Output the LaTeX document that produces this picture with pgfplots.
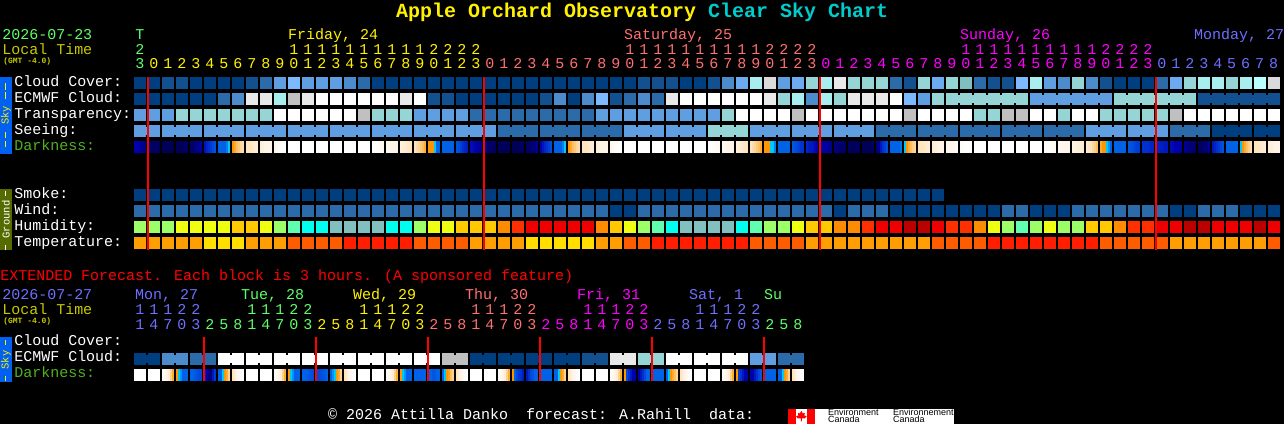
\documentclass[border=0pt]{standalone}
\usepackage{fontspec}
\usepackage{pgfplots}
\usepackage{pgfplotstable}
\pgfplotsset{compat=1.18}
\setmainfont{Liberation Sans}
\newfontfamily\mono{Liberation Mono}
% 1 reference pixel = 0.75pt, axis runs in pixels
\newcommand{\txt}{\mono\fontsize{11.25pt}{11.25pt}\selectfont}
\newcommand{\ttl}{\mono\bfseries\fontsize{15pt}{15pt}\selectfont}
\newcommand{\side}{\mono\fontsize{7.9pt}{7.9pt}\selectfont}

\pgfdeclareplotmark{cell}{\pgfpathrectangle{\pgfpoint{-4.5pt}{-4.5pt}}{\pgfpoint{9pt}{9pt}}\pgfusepathqfill}
\pgfdeclareplotmark{bridge}{\pgfpathrectangle{\pgfpoint{-0.8pt}{-3pt}}{\pgfpoint{1.6pt}{6pt}}\pgfusepathqfill}
\pgfdeclareplotmark{slice}{\pgfpathrectangle{\pgfpoint{-0.8pt}{-4.5pt}}{\pgfpoint{1.6pt}{9pt}}\pgfusepathqfill}
\pgfdeclareplotmark{nil}{}

\definecolor{cA}{HTML}{003F7F}
\definecolor{cB}{HTML}{13508F}
\definecolor{cC}{HTML}{2C6BAA}
\definecolor{cD}{HTML}{4C8CCC}
\definecolor{cE}{HTML}{5F9EE0}
\definecolor{cF}{HTML}{6CABF0}
\definecolor{cG}{HTML}{7DB9FF}
\definecolor{cH}{HTML}{7FBFBF}
\definecolor{cI}{HTML}{95D5D5}
\definecolor{cJ}{HTML}{A9EEEE}
\definecolor{cK}{HTML}{B9FFFF}
\definecolor{cL}{HTML}{C0C0C0}
\definecolor{cM}{HTML}{DADADA}
\definecolor{cN}{HTML}{E9E9E9}
\definecolor{cO}{HTML}{FFFFFF}
\definecolor{hg}{HTML}{9CFF68}
\definecolor{hy}{HTML}{EEFF11}
\definecolor{ha}{HTML}{FFC800}
\definecolor{ho}{HTML}{FF8C00}
\definecolor{hr}{HTML}{FF3000}
\definecolor{hR}{HTML}{EE0000}
\definecolor{hD}{HTML}{BB0000}
\definecolor{hm}{HTML}{5FFFAF}
\definecolor{hc}{HTML}{00FFEE}
\definecolor{ht}{HTML}{82BFBF}
\definecolor{ty}{HTML}{FFDE00}
\definecolor{to}{HTML}{FF9E00}
\definecolor{tO}{HTML}{FF5C00}
\definecolor{tr}{HTML}{FF1E00}
\definecolor{lgreen}{HTML}{5CFF68}
\definecolor{lyel}{HTML}{C8C800}
\definecolor{lsal}{HTML}{FF7070}
\definecolor{lmag}{HTML}{FF00FF}
\definecolor{lblue}{HTML}{6E6EFF}
\definecolor{ldark}{HTML}{50B020}
\definecolor{ttlcy}{HTML}{00CCCC}
\definecolor{skybar}{HTML}{0060F0}
\definecolor{gndbar}{HTML}{556B00}

\pgfplotsset{
  palette/.style={only marks, scatter, scatter src=explicit symbolic,
    scatter/classes={
      n={mark=nil},
      A={mark=#1,cA}, B={mark=#1,cB}, C={mark=#1,cC}, D={mark=#1,cD}, E={mark=#1,cE},
      F={mark=#1,cF}, G={mark=#1,cG}, H={mark=#1,cH}, I={mark=#1,cI}, J={mark=#1,cJ},
      K={mark=#1,cK}, L={mark=#1,cL}, M={mark=#1,cM}, N={mark=#1,cN}, O={mark=#1,cO},
      hg={mark=#1,hg}, hy={mark=#1,hy}, ha={mark=#1,ha}, ho={mark=#1,ho}, hr={mark=#1,hr},
      hR={mark=#1,hR}, hD={mark=#1,hD}, hm={mark=#1,hm}, hc={mark=#1,hc}, ht={mark=#1,ht},
      ty={mark=#1,ty}, to={mark=#1,to}, tO={mark=#1,tO}, tr={mark=#1,tr}}},
  darkscale/.style={only marks, scatter, scatter src=explicit, mark=slice,
    scatter/use mapped color={fill=mapped color}},
  colormap={dark}{rgb255=(0,0,64) rgb255=(0,0,120) rgb255=(0,0,176) rgb255=(0,48,208)
    rgb255=(0,98,230) rgb255=(0,200,255) rgb255=(255,150,0) rgb255=(255,190,96)
    rgb255=(255,228,190) rgb255=(255,244,230) rgb255=(255,255,255)},
}

% one line per forecast hour; n = nothing drawn; sbr, ebr = join to the next block
\pgfplotstableread{
col cloud ecmwf transp seeing smoke wind humid temp sbr ebr
0 A A E E A C hg to E n
1 A A E E A C hg to n n
2 B A E E A C hg to E n
3 B A I E A C hy to E n
4 A A I E A C hy to n n
5 A A I E A C hy ty E n
6 A C I E A C hy ty E n
7 A D I E A C ha ty n n
8 B N I E A C ha to E n
9 C N I E A C hy to E n
10 E J O E A C hg to n n
11 G L O E A C hm tO E n
12 E N O E A C hc tO E n
13 E O O E A C hc tO n n
14 E O O E A C ht tO E n
15 D O O E A C ht tr E n
16 C O L E A C ht tr n n
17 A O I E A C ht tr E n
18 A O I E A C hc tr E n
19 A N I E A C hc tr n n
20 A O E E A C hg tO E n
21 A B E E A C hy tO E n
22 A B E E A C hy tO n n
23 A A E E A C ha tO E n
24 A A C E A C ha to E n
25 A A C E A C ha to n n
26 A A C C A C ho to C n
27 A A C C A C hr to C n
28 A A C C A C hR ty n n
29 A B C C A C hR ty C n
30 A D C C A C hR ty C n
31 A A C C A C hR ty n n
32 A D C C A C hR ty C n
33 A G E C A C ho to C n
34 A B E C A A ha to n n
35 A C E E A A hy tO E n
36 B D E E A C hg tO E n
37 B C E E A C hm tr n n
38 B N E E A C hc tr E n
39 A O E E A C ht tr E n
40 A O E E A C ht tr n n
41 B O E I A C ht tr I n
42 D O I I A C ht tr I n
43 F O O I A C hc tr n n
44 J O O E A C hm tO E n
45 M N O E A C hg tO E n
46 E I O E A C hg tO n n
47 F J L E A C hy tO E n
48 I D O E A C ha to E n
49 J J O E A C ha to n n
50 N I O E A A ho to E n
51 I N O E A C ho to E n
52 I N O E A C hr to n n
53 I N O C A C hR to C n
54 C O O C A A hR to C n
55 B G L C A A hD to n n
56 I E O C A A hD to C n
57 F I O C A A hR tO C n
58 I I O C n A hr tO n I
59 H I O C n A hr tO C I
60 C I I C n A ho tO C I
61 B I I C n A hy tr n I
62 B I L C n C hg tr C I
63 G I L C n C hm tr C n
64 J E O C n A hg tr n E
65 E E O C n A hy tr C E
66 D E I C n A hg tr C E
67 I E O C n C hg tr n E
68 D E O E n C ha tr E E
69 B E I E n C ha tO E n
70 A I I E n C ho tO n I
71 A I I E n C hr tO E I
72 A I I E n C hr tO E I
73 C I I E n C hR tO n I
74 F I L C n A hR to C I
75 I I O C n A hD to C n
76 J B O C n C hD to n B
77 J B O A n C hR to A B
78 I B O A n C hR to A B
79 J B O A n A hR to n B
80 K B O A n A hD to A B
81 M B O A n A hR tO n n
}\hourly

% darkness: six samples across each block
\pgfplotstableread{
col a b c d e f
0 2 2 1.8 1.6 1.4 1.2
1 1 .8 .7 .6 .6 .5
2 .5 .5 .4 .4 .4 .3
3 .4 .4 .5 .5 .6 .6
4 .7 .8 1 1.2 1.5 1.8
5 2.4 2.8 3 3.2 3.5 3.7
6 4 4 4 4 4.3 5
7 6 6.5 7 7.3 7.6 7.8
8 8 8 8.2 8.3 8.5 8.6
9 8.6 8.8 9 9 9.2 9.2
10 9.3 9.4 9.6 9.8 10 10
11 10 10 10 10 10 10
12 10 10 10 10 10 10
13 10 10 10 10 10 10
14 10 10 10 10 10 10
15 10 10 10 10 10 10
16 10 10 10 10 10 10
17 10 10 9.8 9.7 9.6 9.5
18 9.4 9.3 9.2 9 9 8.9
19 8.8 8.6 8.5 8.3 8.2 8
20 8 7.8 7.6 7.3 7 6.6
21 6 6 6 5 4 4
22 4 4 4 4 4 4
23 3.7 3.6 3.3 3 2.8 2.6
24 2.3 2.2 2 1.8 1.6 1.4
25 1.2 1 .8 .7 .6 .6
26 .5 .5 .5 .4 .4 .4
27 .4 .4 .4 .5 .5 .5
28 .6 .7 .8 1 1.2 1.5
29 2 2.4 2.8 3 3.3 3.6
30 4 4 4 4 4.3 5
31 6 6.5 7 7.3 7.6 7.8
32 8 8 8.2 8.3 8.5 8.6
33 8.6 8.8 9 9 9.2 9.2
34 9.3 9.4 9.6 9.8 10 10
35 10 10 10 10 10 10
36 10 10 10 10 10 10
37 10 10 10 10 10 10
38 10 10 10 10 10 10
39 10 10 10 10 10 10
40 10 10 10 10 10 10
41 10 10 9.8 9.7 9.6 9.5
42 9.4 9.3 9.2 9 9 8.9
43 8.8 8.6 8.5 8.3 8.2 8
44 8 7.8 7.6 7.3 7 6.6
45 6 6 6 5 5 4.3
46 4 4 4 4 4 4
47 3.8 3.6 3.5 3.3 3.1 3
48 2.8 2.6 2.5 2.4 2.2 2
49 2 1.9 1.8 1.6 1.5 1.3
50 1.2 1 .9 .8 .7 .6
51 .6 .5 .5 .5 .5 .5
52 .4 .4 .4 .5 .5 .6
53 1 1.5 2.5 3 3.3 3.6
54 4 4 4 4 4 4.2
55 5 6 6.5 7 7.4 7.6
56 8 8 8.2 8.3 8.4 8.5
57 8.5 8.7 8.8 9 9 9.1
58 9.1 9.2 9.3 9.4 9.5 9.6
59 9.7 9.8 9.9 10 10 10
60 10 10 10 10 10 10
61 10 10 10 10 10 10
62 10 10 10 10 10 10
63 10 10 10 10 10 10
64 10 10 10 10 10 10
65 10 10 9.9 9.8 9.7 9.6
66 9.5 9.4 9.3 9.2 9.1 9
67 9 8.9 8.8 8.7 8.6 8.5
68 8.4 8.2 8 7.7 7.4 7
69 6.5 6 6 5 4.5 4
70 4 4 4 4 4 4
71 3.8 3.7 3.6 3.4 3.3 3.2
72 3 3 3 2.9 2.8 2.8
73 2.8 2.7 2.6 2.6 2.5 2.5
74 2.2 2.1 2 2 1.9 1.8
75 1.5 1.3 1.1 1 .8 .7
76 .6 .6 .7 .8 1 1.5
77 2.5 2.7 3 3.2 3.5 3.7
78 4 4 4 4 4 4
79 5 6 6.5 7 7.4 7.8
80 8 8 8.2 8.3 8.4 8.5
81 8.5 8.7 8.8 9 9 9.1
}\darkhourly

% extended forecast, one line per 3 hour block
\pgfplotstableread{
col ecmwf ebr a b c d e f
0 A A 10 10 10 10 10 10
1 A n 10 10 10 10 10 10
2 D D 9.8 9.5 9 8.5 7.5 6.5
3 D n 6 5 4.5 4 4 4
4 C C 4 4 3.8 3.7 3.5 3.5
5 C n 2.5 2 1.2 1.2 2.5 3.2
6 O O 4 4 5 6 6.5 7.5
7 O n 8 8.5 9 9.4 9.8 10
8 O O 10 10 10 10 10 10
9 O n 10 10 10 10 10 10
10 O O 9.8 9.5 9 8.5 7.5 6.5
11 O n 6 5 4.5 4 4 4
12 O O 4 4 3.9 3.8 3.7 3.6
13 O n 3.5 3.5 3.6 3.7 3.8 4
14 O O 4 4.5 5 6 6.5 7.5
15 O n 8 8.5 9 9.4 9.8 10
16 O O 10 10 10 10 10 10
17 O n 10 10 10 10 10 10
18 O O 9.8 9.5 9 8.5 7.5 6.5
19 O n 6 5 4.5 4 4 4
20 O O 4 4 4 4 4 4
21 O n 4 4 3.8 3.8 4 4
22 L L 4 5 6 6.3 7 7.5
23 L n 8 8.5 9 9.4 9.8 10
24 A A 10 10 10 10 10 10
25 A n 10 10 10 10 10 10
26 A A 9.8 9.5 9 8.5 7.5 6.5
27 A n 6 4 3.5 3.2 3 2.6
28 A A 2.5 3 3.5 3.7 4 4
29 A n 4 4 4 4 4 4
30 A A 4 4 5 6 6.5 7.5
31 A n 8 8.5 9 9.4 9.8 10
32 B B 10 10 10 10 10 10
33 B n 10 10 10 10 10 10
34 N N 9.8 9.5 9 8.5 7.5 6.5
35 N n 6 3.5 3 2.5 2 2
36 I I 2 2.5 3 3.5 4 4
37 I n 4 4 4 4 4 4
38 O O 4 5 6 6.5 7 7.6
39 O n 8 8.5 9 9.4 9.8 10
40 O O 10 10 10 10 10 10
41 O n 10 10 10 10 10 10
42 O O 9.8 9.5 9 8.5 7.5 6.5
43 O n 6 3.3 3 2.5 2 2
44 E E 2 2 2.5 3 3.5 3.8
45 E n 4 4 4 4 4 4
46 C C 4 4 5 6 6.5 7.5
47 C n 8 8.5 9 9.4 9.8 10
}\extended

\newcommand{\cellrow}[3]{\addplot[palette=cell] table[x expr=\thisrow{col}*14+140, y expr=#3, meta=#2]{#1};}
\newcommand{\joinrow}[3]{\addplot[palette=bridge] table[x expr=\thisrow{col}*14+147, y expr=#3, meta=#2]{#1};}
\newcommand{\darkrow}[2]{%
  \addplot[darkscale] table[x expr=\thisrow{col}*14+135, y expr=#2, meta=a]{#1};
  \addplot[darkscale] table[x expr=\thisrow{col}*14+137, y expr=#2, meta=b]{#1};
  \addplot[darkscale] table[x expr=\thisrow{col}*14+139, y expr=#2, meta=c]{#1};
  \addplot[darkscale] table[x expr=\thisrow{col}*14+141, y expr=#2, meta=d]{#1};
  \addplot[darkscale] table[x expr=\thisrow{col}*14+143, y expr=#2, meta=e]{#1};
  \addplot[darkscale] table[x expr=\thisrow{col}*14+145, y expr=#2, meta=f]{#1};
}
\newcommand{\midnight}[3]{\addplot[red, line width=1.5pt, sharp plot, no marks] coordinates {(#1,#2) (#1,#3)};}
% digits above the blocks: colour, baseline, first block, digits
\newcommand{\digits}[4]{%
  \foreach \d [count=\i from #3] in {#4} {%
    \pgfmathsetmacro{\xx}{\i*14+140}%
    \edef\tmp{\noexpand\node[anchor=base, inner sep=0pt, text=#1, font=\noexpand\txt] at (axis cs:\xx,#2) {\d};}%
    \tmp
  }%
}
\newcommand{\lab}[4]{\node[anchor=base west, inner sep=0pt, text=#1, font=\txt] at (axis cs:#2,#3) {#4};}
\newcommand{\dash}[3]{\path[fill=#1] (axis cs:5,#2) rectangle (axis cs:6.3,#3);}

\begin{document}
\begin{tikzpicture}
\begin{axis}[
    scale only axis,
    width=963pt, height=318pt,
    xmin=0, xmax=1284, ymin=0, ymax=424,
    y dir=reverse,
    hide axis,
    clip mode=individual,
    point meta min=0, point meta max=10,
    colormap name=dark,
]
\path[fill=black] (axis cs:0,0) rectangle (axis cs:1284,424);

% side bars
\path[fill=skybar] (axis cs:0,77) rectangle (axis cs:12,154);
\path[fill=gndbar] (axis cs:0,189) rectangle (axis cs:12,250);
\path[fill=skybar] (axis cs:0,337) rectangle (axis cs:12,382);
\node[rotate=90, text=yellow, inner sep=0pt, font=\side] at (axis cs:6,115.5) {Sky};
\node[rotate=90, text=white, inner sep=0pt, font=\side] at (axis cs:6,219.5) {Ground};
\node[rotate=90, text=yellow, inner sep=0pt, font=\side] at (axis cs:6,360) {Sky};
\dash{yellow}{83}{90}
\dash{yellow}{92}{99}
\dash{yellow}{132}{138}
\dash{yellow}{141}{147}
\dash{white}{191}{196}
\dash{white}{245}{250}
\dash{yellow}{340}{345}
\dash{yellow}{376}{381}

% title and left column
\node[anchor=base west, inner sep=0pt, font=\ttl] at (axis cs:396,18) {\textcolor{yellow}{Apple Orchard Observatory} \textcolor{ttlcy}{Clear Sky Chart}};
\lab{lgreen}{2}{40}{2026-07-23}
\lab{lyel}{2}{55}{Local Time}
\node[anchor=base west, inner sep=0pt, text=lyel, font=\mono\bfseries\fontsize{6pt}{6pt}\selectfont] at (axis cs:3,64) {(GMT -4.0)};
\lab{white}{14}{87}{Cloud Cover:}
\lab{white}{14}{103}{ECMWF Cloud:}
\lab{white}{14}{119}{Transparency:}
\lab{white}{14}{135}{Seeing:}
\lab{ldark}{14}{151}{Darkness:}
\lab{white}{14}{199}{Smoke:}
\lab{white}{14}{215}{Wind:}
\lab{white}{14}{231}{Humidity:}
\lab{white}{14}{247}{Temperature:}

% day names and hour digits
\digits{lgreen}{40}{0}{T}
\digits{lgreen}{55}{0}{2}
\digits{lgreen}{69}{0}{3}
\lab{yellow}{288}{40}{Friday, 24}
\lab{lsal}{624}{40}{Saturday, 25}
\lab{lmag}{960}{40}{Sunday, 26}
\lab{lblue}{1194}{40}{Monday, 27}
\digits{yellow}{55}{11}{1,1,1,1,1,1,1,1,1,1,2,2,2,2}
\digits{lsal}{55}{35}{1,1,1,1,1,1,1,1,1,1,2,2,2,2}
\digits{lmag}{55}{59}{1,1,1,1,1,1,1,1,1,1,2,2,2,2}
\digits{yellow}{69}{1}{0,1,2,3,4,5,6,7,8,9,0,1,2,3,4,5,6,7,8,9,0,1,2,3}
\digits{lsal}{69}{25}{0,1,2,3,4,5,6,7,8,9,0,1,2,3,4,5,6,7,8,9,0,1,2,3}
\digits{lmag}{69}{49}{0,1,2,3,4,5,6,7,8,9,0,1,2,3,4,5,6,7,8,9,0,1,2,3}
\digits{lblue}{69}{73}{0,1,2,3,4,5,6,7,8}

% hourly rows
\cellrow{\hourly}{cloud}{83}
\cellrow{\hourly}{ecmwf}{99}
\joinrow{\hourly}{ebr}{99}
\cellrow{\hourly}{transp}{115}
\cellrow{\hourly}{seeing}{131}
\joinrow{\hourly}{sbr}{131}
\darkrow{\darkhourly}{147}
\cellrow{\hourly}{smoke}{195}
\cellrow{\hourly}{wind}{211}
\cellrow{\hourly}{humid}{227}
\cellrow{\hourly}{temp}{243}
\midnight{148}{77}{250}
\midnight{484}{77}{250}
\midnight{820}{77}{250}
\midnight{1156}{77}{250}

% extended forecast
\lab{red}{0}{281}{EXTENDED Forecast. Each block is 3 hours. (A sponsored feature)}
\lab{lblue}{2}{300}{2026-07-27}
\lab{lyel}{2}{315}{Local Time}
\node[anchor=base west, inner sep=0pt, text=lyel, font=\mono\bfseries\fontsize{6pt}{6pt}\selectfont] at (axis cs:3,324) {(GMT -4.0)};
\lab{white}{14}{346}{Cloud Cover:}
\lab{white}{14}{362}{ECMWF Cloud:}
\lab{ldark}{14}{378}{Darkness:}
\lab{lblue}{135}{300}{Mon, 27}
\lab{lgreen}{241}{300}{Tue, 28}
\lab{yellow}{353}{300}{Wed, 29}
\lab{lsal}{465}{300}{Thu, 30}
\lab{lmag}{577}{300}{Fri, 31}
\lab{lblue}{689}{300}{Sat, 1}
\lab{lgreen}{764}{300}{Su}
\digits{lblue}{315}{0}{1,1,1,2,2}
\digits{lgreen}{315}{8}{1,1,1,2,2}
\digits{yellow}{315}{16}{1,1,1,2,2}
\digits{lsal}{315}{24}{1,1,1,2,2}
\digits{lmag}{315}{32}{1,1,1,2,2}
\digits{lblue}{315}{40}{1,1,1,2,2}
\digits{lblue}{330}{0}{1,4,7,0,3}
\digits{lgreen}{330}{5}{2,5,8,1,4,7,0,3}
\digits{yellow}{330}{13}{2,5,8,1,4,7,0,3}
\digits{lsal}{330}{21}{2,5,8,1,4,7,0,3}
\digits{lmag}{330}{29}{2,5,8,1,4,7,0,3}
\digits{lblue}{330}{37}{2,5,8,1,4,7,0,3}
\digits{lgreen}{330}{45}{2,5,8}
\cellrow{\extended}{ecmwf}{359}
\joinrow{\extended}{ebr}{359}
\darkrow{\extended}{375}
\midnight{204}{337}{381}
\midnight{316}{337}{381}
\midnight{428}{337}{381}
\midnight{540}{337}{381}
\midnight{652}{337}{381}
\midnight{764}{337}{381}

% footer with the Canadian logo
\lab{white}{328}{420}{© 2026 Attilla Danko~~forecast: A.Rahill~~data:}
\path[fill=white] (axis cs:788,409) rectangle (axis cs:954,424);
\path[fill=red] (axis cs:788,409) rectangle (axis cs:796,424);
\path[fill=red] (axis cs:807,409) rectangle (axis cs:815,424);
\path[fill=red] (axis cs:801.5,411) -- (axis cs:803,413.5) -- (axis cs:805,413) -- (axis cs:804.5,415.5)
  -- (axis cs:806.8,416.5) -- (axis cs:805,418.5) -- (axis cs:802,418.5) -- (axis cs:802,421.5) -- (axis cs:801,421.5)
  -- (axis cs:801,418.5) -- (axis cs:798,418.5) -- (axis cs:796.2,416.5) -- (axis cs:798.5,415.5) -- (axis cs:798,413) -- (axis cs:800,413.5) -- cycle;
\node[anchor=base west, inner sep=0pt, text=black, font=\fontsize{6.75pt}{6.75pt}\selectfont] at (axis cs:828,416) {Environment};
\node[anchor=base west, inner sep=0pt, text=black, font=\fontsize{6.75pt}{6.75pt}\selectfont] at (axis cs:828,423) {Canada};
\node[anchor=base west, inner sep=0pt, text=black, font=\fontsize{6.75pt}{6.75pt}\selectfont] at (axis cs:893,416) {Environnement};
\node[anchor=base west, inner sep=0pt, text=black, font=\fontsize{6.75pt}{6.75pt}\selectfont] at (axis cs:893,423) {Canada};
\end{axis}
\end{tikzpicture}
\end{document}
